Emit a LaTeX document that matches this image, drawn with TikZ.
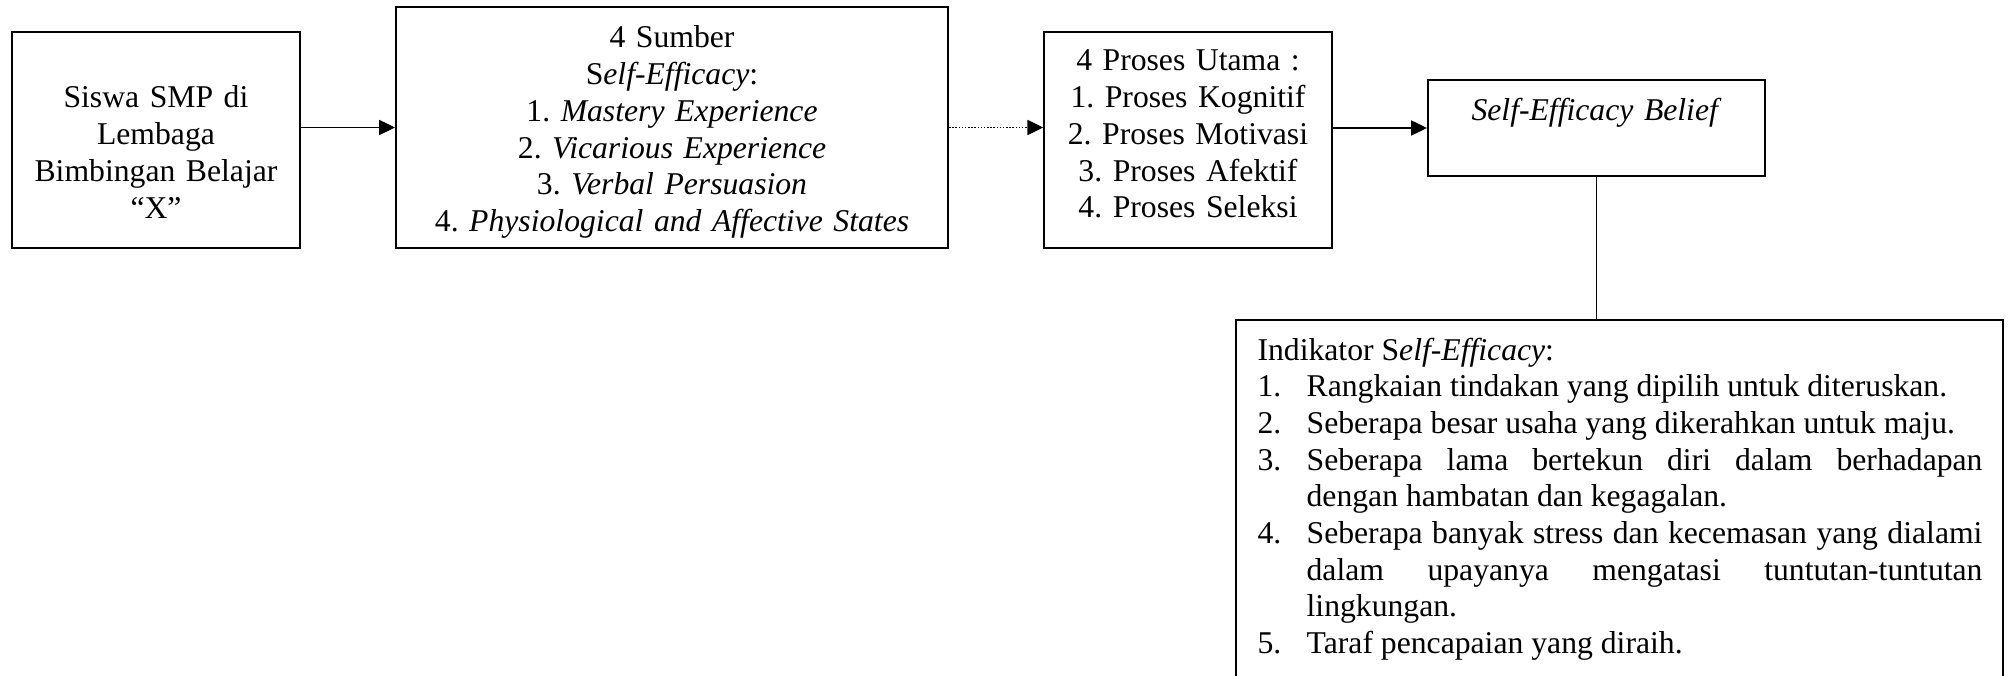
\documentclass[tikz,border=0pt]{standalone}
\usepackage{fontspec}
\setmainfont{Liberation Serif}
\usetikzlibrary{arrows.meta,fit}
\frenchspacing

\tikzset{
  kotak/.style={draw, inner sep=0pt, line width=0.75pt},
  kotaktipis/.style={draw, inner sep=0pt, line width=0.55pt},
  teks/.style={inner sep=0pt, anchor=base, align=center,
    font=\fontsize{12}{13.9}\selectfont},
  panah/.style={-{Triangle[length=6pt,width=5.7pt]}, line width=0.6pt},
}

% butir daftar bernomor dengan indentasi gantung
\newcommand{\butir}[2]{\par\noindent\hangindent=18.6pt\hangafter=1\makebox[18.6pt][l]{#1}#2}

\begin{document}
\begin{tikzpicture}[x=0.3788pt, y=-0.3788pt]

    \useasboundingbox (0,0) rectangle (2013,676);

    % Kotak-kotak
    \node[kotak, fit={(12,32) (300,248)}] (siswa) {};
    \node[kotak, fit={(396,7) (948,248)}] (sumber) {};
    \node[kotaktipis, fit={(1044,32) (1332,248)}] (proses) {};
    \node[kotak, fit={(1428,80) (1765,176)}] (belief) {};
    \node[kotak, line width=0.65pt, fit={(1236,320) (2003,700)}] (indikator) {};

    % Isi kotak
    \node[teks, text width=100pt] (siswaTxt) at (156,108)
      {Siswa SMP di\\ Lembaga\\ Bimbingan Belajar\\ “X”};
    \node[teks, text width=200pt] (sumberTxt) at (672,48)
      {4 Sumber\\ S\textit{elf-Efficacy}:\\ 1. \textit{Mastery Experience}\\
       2. \textit{Vicarious Experience}\\ 3. \textit{Verbal Persuasion}\\
       4. \textit{Physiological and Affective States}};
    \node[teks, text width=110pt] (prosesTxt) at (1188,71)
      {4 Proses Utama :\\ 1. Proses Kognitif\\ 2. Proses Motivasi\\
       3. Proses Afektif\\ 4. Proses Seleksi};
    \node[teks, text width=130pt] (beliefTxt) at (1596.5,121)
      {\textit{Self-Efficacy Belief}};
    \node[teks, text width=274.6pt, align=justify, anchor=base west] (indikatorTxt) at (1257,360)
      {\hyphenpenalty=10000 Indikator S\textit{elf-Efficacy}:
       \butir{1.}{Rangkaian tindakan yang dipilih untuk diteruskan.}
       \butir{2.}{Seberapa besar usaha yang dikerahkan untuk maju.}
       \butir{3.}{Seberapa lama bertekun diri dalam berhadapan\linebreak
         dengan hambatan dan kegagalan.}
       \butir{4.}{Seberapa banyak stress dan kecemasan yang dialami\linebreak
         dalam upayanya mengatasi tuntutan-tuntutan\linebreak lingkungan.}
       \butir{5.}{Taraf pencapaian yang diraih.}\par};

    % Panah penghubung
    \draw[panah] (siswa.east |- sumber.west) -- (sumber.west);
    \draw[panah, dash pattern=on 0.6pt off 0.6pt] (sumber.east) -- (proses.west |- sumber.east);
    \draw[panah] (proses.east |- belief.west) -- (belief.west);
    \draw[line width=0.6pt] (belief.south) -- (belief.south |- indikator.north);

  \end{tikzpicture}
\end{document}
